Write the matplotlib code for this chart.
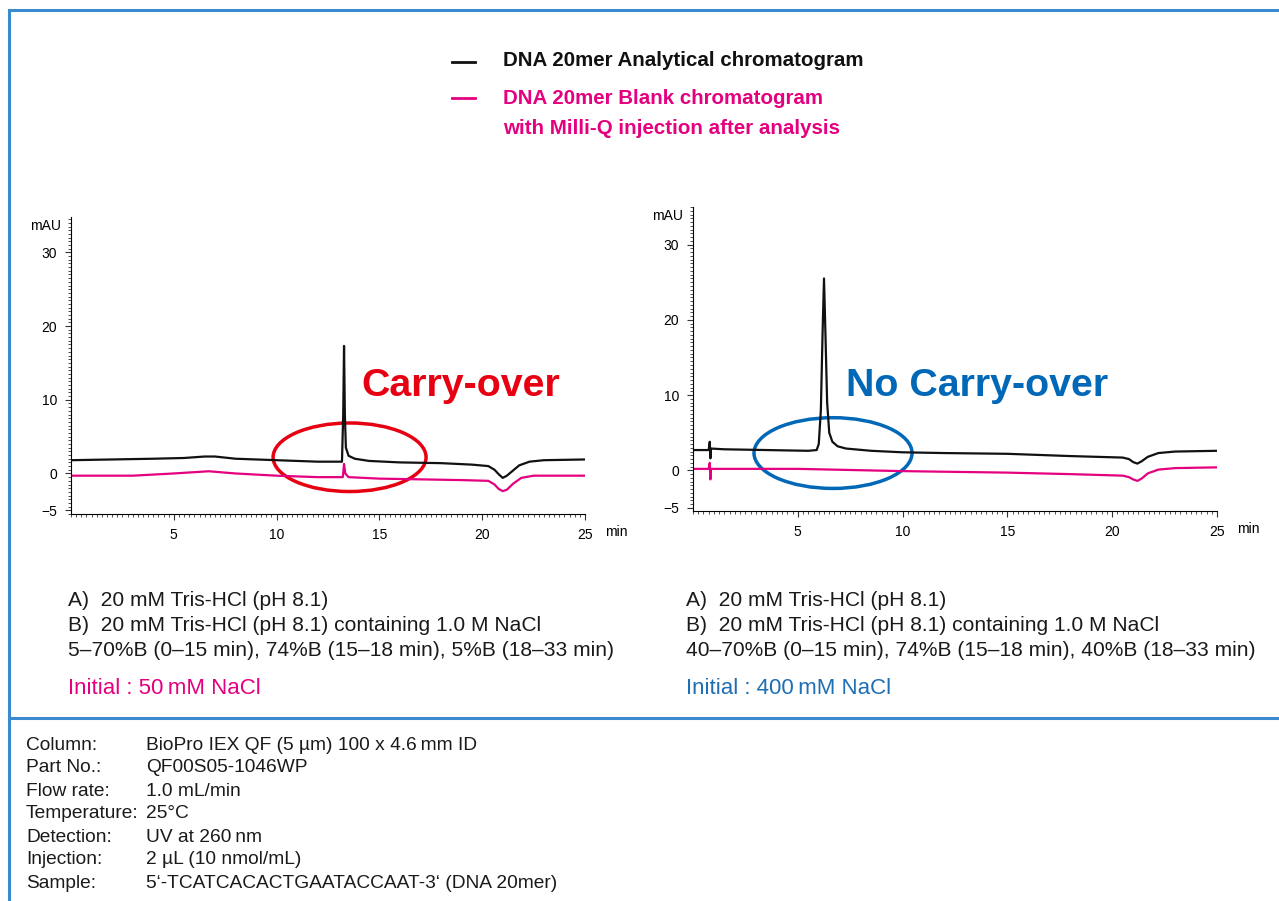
import matplotlib
matplotlib.use('Agg')
import matplotlib.pyplot as plt
from matplotlib.patches import Ellipse
from matplotlib.lines import Line2D
from matplotlib.ticker import MultipleLocator

#Cromatograma izquierdo (inicial 50 mM NaCl): tiempo (min) y señal (mAU)
t_izq_analitico = [0, 2, 4, 5.5, 6.5, 7.0, 8.0, 10, 12, 13.18, 13.24, 13.28, 13.32, 13.37, 13.5,
                   13.8, 14.5, 16, 18, 19.5, 20.3, 20.6, 20.8, 21.0, 21.2, 21.5, 21.8, 22.3, 23, 25]
y_izq_analitico = [1.8, 1.9, 2.0, 2.1, 2.3, 2.3, 2.0, 1.8, 1.6, 1.6, 8.0, 17.3, 8.0, 3.5, 2.4,
                   2.0, 1.7, 1.5, 1.4, 1.2, 1.0, 0.5, -0.1, -0.6, -0.3, 0.4, 1.1, 1.6, 1.8, 1.9]
t_izq_blanco = [0, 3, 5, 6.7, 8, 10, 12, 13.22, 13.28, 13.34, 13.5, 15, 17, 19, 20.3, 20.6,
                20.8, 21.0, 21.2, 21.5, 21.9, 22.5, 25]
y_izq_blanco = [-0.3, -0.3, 0.0, 0.3, 0.0, -0.3, -0.5, -0.5, 1.3, 0.0, -0.5, -0.7, -0.8, -0.9,
                -1.0, -1.5, -2.1, -2.4, -2.2, -1.4, -0.6, -0.3, -0.3]

#Cromatograma derecho (inicial 400 mM NaCl)
t_der_analitico = [0, 0.75, 0.8, 0.83, 0.86, 1.5, 5.5, 5.9, 6.0, 6.1, 6.18, 6.25, 6.32, 6.4,
                   6.5, 6.65, 6.9, 7.3, 8.5, 10, 12, 15, 18, 20.5, 20.8, 21.0, 21.2, 21.4,
                   21.7, 22.2, 23, 25]
y_der_analitico = [2.7, 2.7, 3.8, 1.6, 2.9, 2.8, 2.6, 2.7, 3.5, 8.0, 18.0, 25.5, 18.0, 9.0,
                   5.0, 3.8, 3.2, 2.9, 2.6, 2.4, 2.3, 2.2, 1.9, 1.7, 1.5, 1.1, 0.9, 1.2,
                   1.8, 2.3, 2.5, 2.6]
t_der_blanco = [0, 0.75, 0.8, 0.83, 0.86, 5, 10, 15, 18, 20.5, 20.8, 21.0, 21.2, 21.4, 21.7,
                22.2, 23, 25]
y_der_blanco = [0.2, 0.2, 1.0, -1.2, 0.2, 0.2, -0.1, -0.3, -0.5, -0.7, -0.9, -1.2, -1.4, -1.1,
                -0.4, 0.1, 0.3, 0.4]

#Textos
leyenda = ['DNA 20mer Analytical chromatogram',
           'DNA 20mer Blank chromatogram',
           'with Milli-Q injection after analysis']
eluyentes_izq = ['A)  20 mM Tris-HCl (pH 8.1)',
                 'B)  20 mM Tris-HCl (pH 8.1) containing 1.0 M NaCl',
                 '5\u201370%B (0\u201315 min), 74%B (15\u201318 min), 5%B (18\u201333 min)']
eluyentes_der = ['A)  20 mM Tris-HCl (pH 8.1)',
                 'B)  20 mM Tris-HCl (pH 8.1) containing 1.0 M NaCl',
                 '40\u201370%B (0\u201315 min), 74%B (15\u201318 min), 40%B (18\u201333 min)']
inicial_izq = 'Initial : 50\u2009mM NaCl'
inicial_der = 'Initial : 400\u2009mM NaCl'
etiquetas_cond = ['Column:', 'Part No.:', 'Flow rate:', 'Temperature:', 'Detection:', 'Injection:', 'Sample:']
valores_cond = ['BioPro IEX QF (5 \u00b5m) 100 x 4.6\u2009mm ID', 'QF00S05-1046WP', '1.0 mL/min', '25\u00b0C',
                'UV at 260\u2009nm', '2 \u00b5L (10 nmol/mL)', '5\u2018-TCATCACACTGAATACCAAT-3\u2018 (DNA 20mer)']

NEGRO = '#111111'
MAGENTA = '#e4007f'
ROJO = '#e60012'
AZUL = '#0068b7'
AZUL_INI = '#1f6fb5'
BORDE = '#3a8ad0'
TEXTO = '#1a1a1a'

W, H = 1279, 901
plt.rcParams['font.family'] = ['Liberation Sans', 'DejaVu Sans']

def fx(px):
    return px / W
def fy(py):
    return 1 - py / H

fig = plt.figure(figsize=(W / 100, H / 100), dpi=100)
fig.patch.set_facecolor('white')

#Bordes azules
for xs, ys in [([9, W], [10, 10]), ([9, 9], [10, H]), ([9, W], [718, 718])]:
    fig.add_artist(Line2D([fx(x) for x in xs], [fy(y) for y in ys], color=BORDE, lw=2.2,
                          transform=fig.transFigure))

#Leyenda
for y, c in [(62, NEGRO), (98, MAGENTA)]:
    fig.add_artist(Line2D([fx(452), fx(475)], [fy(y), fy(y)], color=c, lw=2.0, transform=fig.transFigure))
fig.text(fx(503), fy(61), leyenda[0], color=NEGRO, fontsize=14.8, fontweight='bold', va='center')
fig.text(fx(503), fy(98), leyenda[1], color=MAGENTA, fontsize=14.8, fontweight='bold', va='center')
fig.text(fx(503), fy(128), leyenda[2], color=MAGENTA, fontsize=14.8, fontweight='bold', va='center')

def panel(rect, ylim, t_a, y_a, t_b, y_b):
    ax = fig.add_axes(rect)
    ax.plot(t_b, y_b, color=MAGENTA, lw=1.6)
    ax.plot(t_a, y_a, color=NEGRO, lw=1.6)
    ax.set_xlim(0, 25)
    ax.set_ylim(*ylim)
    for s in ['top', 'right']:
        ax.spines[s].set_visible(False)
    ax.xaxis.set_minor_locator(MultipleLocator(0.25))
    ax.yaxis.set_minor_locator(MultipleLocator(0.5))
    ax.set_yticks([-5, 0, 10, 20, 30])
    ax.set_yticklabels(['\u22125', '0', '10', '20', '30'])
    ax.set_xticks([5, 10, 15, 20, 25])
    ax.tick_params(which='major', length=4, width=0.8, labelsize=10, pad=6, color='#333333')
    ax.tick_params(which='minor', length=2, width=0.6, color='#333333')
    ax.annotate('mAU', xy=(0, 1), xycoords='axes fraction', xytext=(-10, -9),
                textcoords='offset pixels', fontsize=10, ha='right', va='center')
    ax.annotate('min', xy=(1, 0), xycoords='axes fraction', xytext=(20, -18),
                textcoords='offset pixels', fontsize=10, ha='left', va='center')
    ax.patch.set_alpha(0)
    return ax

ax1 = panel([fx(71), fy(514), (585 - 71) / W, (514 - 217) / H], (-5.5, 34.8),
            t_izq_analitico, y_izq_analitico, t_izq_blanco, y_izq_blanco)
ax2 = panel([fx(693), fy(511), (1217 - 693) / W, (511 - 207) / H], (-5.4, 35),
            t_der_analitico, y_der_analitico, t_der_blanco, y_der_blanco)

ax1.add_patch(Ellipse((13.55, 2.2), 7.44, 9.3, fill=False, edgecolor=ROJO, lw=2.5, clip_on=False))
ax2.add_patch(Ellipse((6.68, 2.3), 7.54, 9.4, fill=False, edgecolor=AZUL, lw=2.5, clip_on=False))

fig.text(fx(361), fy(386), 'Carry-over', color=ROJO, fontsize=28.4, fontweight='bold', va='center')
fig.text(fx(846), fy(386), 'No Carry-over', color=AZUL, fontsize=28.4, fontweight='bold', va='center')

#Condiciones de elución
for i in range(3):
    fig.text(fx(68), fy(600 + 25.5 * i), eluyentes_izq[i], color=TEXTO, fontsize=15.1, va='center')
    fig.text(fx(686), fy(600 + 25.5 * i), eluyentes_der[i], color=TEXTO, fontsize=15.1, va='center')
fig.text(fx(68), fy(688), inicial_izq, color=MAGENTA, fontsize=16, va='center')
fig.text(fx(686), fy(688), inicial_der, color=AZUL_INI, fontsize=16, va='center')

#Condiciones cromatográficas
for i in range(len(etiquetas_cond)):
    y = 745 + 23 * i
    fig.text(fx(26), fy(y), etiquetas_cond[i], color=TEXTO, fontsize=13.8, va='center')
    fig.text(fx(146), fy(y), valores_cond[i], color=TEXTO, fontsize=13.8, va='center')

fig.savefig('out.png', dpi=100)
